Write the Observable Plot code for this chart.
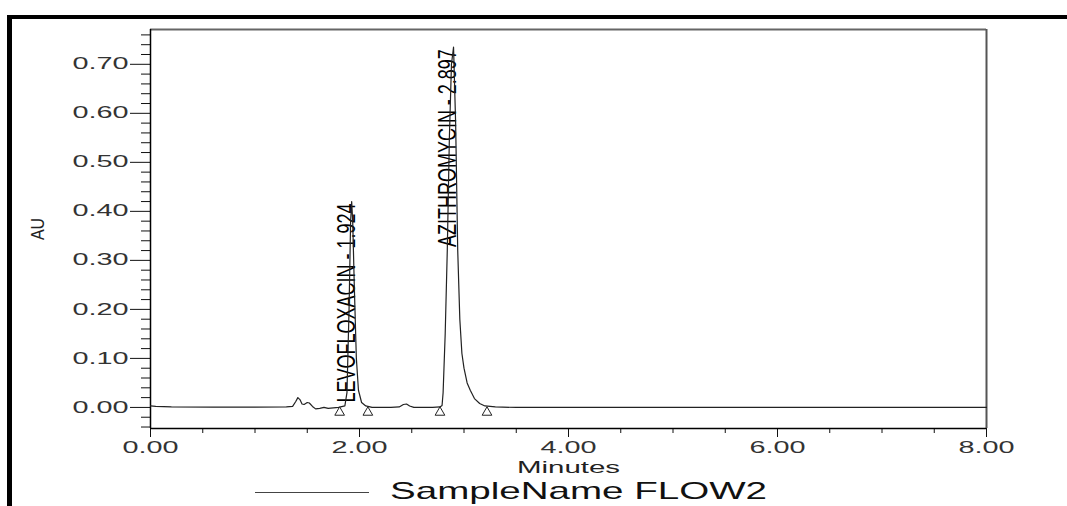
<!DOCTYPE html>
<html><head><meta charset="utf-8">
<script src="https://cdn.jsdelivr.net/npm/d3@7"></script>
<script src="https://cdn.jsdelivr.net/npm/@observablehq/plot@0.6"></script>
<style>
html,body{margin:0;padding:0;background:#fff;width:1067px;height:506px;overflow:hidden;font-family:"Liberation Sans",Arial,sans-serif;}
#border{position:absolute;left:7px;top:15px;width:1070px;height:500px;border-top:4px solid #000;border-left:5px solid #000;box-sizing:border-box;}
#chart{position:absolute;left:0;top:0;}
#legend{position:absolute;left:0;top:478px;width:1067px;height:27px;}
</style></head><body>
<div id="border"></div>
<div id="chart"></div>
<div id="legend"></div>
<script>
// Chromatogram trace (minutes, AU)
const times = [0.00,0.05,0.20,0.60,1.00,1.30,1.36,1.39,1.41,1.43,1.45,1.47,1.50,1.52,1.55,1.58,1.62,1.66,1.70,1.75,1.80,1.86,1.88,1.90,1.915,1.925,1.935,1.95,1.97,1.99,2.02,2.06,2.12,2.20,2.30,2.38,2.42,2.45,2.48,2.52,2.60,2.70,2.77,2.79,2.80,2.82,2.84,2.86,2.88,2.90,2.92,2.94,2.96,2.98,3.00,3.03,3.06,3.10,3.15,3.20,3.30,3.50,4.00,5.00,6.00,7.00,8.00];
const au    = [0.003,0.002,0.001,0.0005,0.0005,0.001,0.002,0.012,0.020,0.016,0.007,0.006,0.010,0.009,0.002,-0.003,-0.002,0.000,-0.002,-0.001,0.000,0.003,0.030,0.200,0.380,0.420,0.380,0.250,0.100,0.035,0.010,0.003,0.000,0.000,0.000,0.001,0.006,0.007,0.003,0.000,0.000,0.000,0.001,0.004,0.030,0.150,0.320,0.550,0.700,0.735,0.580,0.320,0.180,0.110,0.080,0.050,0.035,0.018,0.008,0.003,0.001,0.000,0.000,0.000,0.000,0.000,0.000];

// Integrated peaks
const peakNames  = ["LEVOFLOXACIN", "AZITHROMYCIN"];
const peakRT     = [1.924, 2.897];
const peakHeight = [0.420, 0.735];

// Integration start/end markers
const markerTimes = [1.81, 2.08, 2.77, 3.22];
const markerAU    = [0, 0, 0, 0];

// Axes
const xDomain = [0, 8];
const yDomain = [-0.043, 0.771];
const xMajorTicks = [0, 2, 4, 6, 8];
const xMinorTicks = [0.5, 1, 1.5, 2.5, 3, 3.5, 4.5, 5, 5.5, 6.5, 7, 7.5];
const yMajorTicks = [0, 0.1, 0.2, 0.3, 0.4, 0.5, 0.6, 0.7];
const yMinorTicks = [-0.04,-0.02,0.02,0.04,0.06,0.08,0.12,0.14,0.16,0.18,0.22,0.24,0.26,0.28,0.32,0.34,0.36,0.38,0.42,0.44,0.46,0.48,0.52,0.54,0.56,0.58,0.62,0.64,0.66,0.68,0.72,0.74,0.76];
const xLabel = "Minutes";
const yLabel = "AU";
const sampleName = "SampleName FLOW2";

const trace = times.map((t, i) => ({t, v: au[i]}));
const peaks = peakNames.map((n, i) => ({label: `${n} - ${peakRT[i].toFixed(3)}`, rt: peakRT[i], h: peakHeight[i]}));
const markers = markerTimes.map((t, i) => ({t, v: markerAU[i]}));
const fmt = d3.format(".2f");

const plot = Plot.plot({
  width: 1067, height: 480,
  marginLeft: 150, marginRight: 81, marginTop: 29, marginBottom: 52,
  style: {background: "transparent", fontFamily: "'Liberation Sans', Arial, sans-serif", color: "#000", overflow: "visible"},
  x: {domain: xDomain},
  y: {domain: yDomain},
  marks: [
    Plot.ruleY([yDomain[1]], {stroke: "#666", strokeWidth: 2}),
    Plot.ruleX([xDomain[1]], {stroke: "#555", strokeWidth: 2}),
    Plot.axisY(yMinorTicks, {tickSize: 9, tickFormat: () => "", label: null, stroke: "#111"}),
    Plot.axisY(yMajorTicks, {tickSize: 20, tickPadding: 2, tickFormat: fmt, fontSize: 16, fill: "#333", stroke: "#111",
      label: yLabel, labelAnchor: "center", labelArrow: "none", labelOffset: 120}),
    Plot.axisX(xMinorTicks, {tickSize: 5, tickFormat: () => "", label: null, stroke: "#111"}),
    Plot.axisX(xMajorTicks, {tickSize: 9, tickPadding: 4, tickFormat: fmt, fontSize: 16, fill: "#333", stroke: "#111",
      label: xLabel, labelAnchor: "center", labelArrow: "none", labelOffset: 44}),
    Plot.ruleX([xDomain[0]], {stroke: "#000", strokeWidth: 1.5}),
    Plot.ruleY([yDomain[0]], {stroke: "#000", strokeWidth: 1.5}),
    Plot.text(peaks, {x: "rt", y: "h", text: "label", rotate: -90, textAnchor: "end", lineAnchor: "bottom",
      fontSize: 18, fill: "#000", dx: 3, dy: 2}),
    Plot.line(trace, {x: "t", y: "v", stroke: "#222", strokeWidth: 1.2}),
    Plot.dot(markers, {x: "t", y: "v", symbol: "triangle", r: 3.6, stroke: "#222", fill: "white", strokeWidth: 1, dy: 5})
  ]
});
document.getElementById("chart").appendChild(plot);

function stretch(nodes, f) {
  nodes.forEach(n => {
    const w = n.getComputedTextLength();
    if (w > 0) { n.setAttribute("textLength", w * f); n.setAttribute("lengthAdjust", "spacingAndGlyphs"); }
  });
}
stretch(plot.querySelectorAll('g[aria-label="y-axis tick label"] text'), 1.8);
stretch(plot.querySelectorAll('g[aria-label="x-axis tick label"] text'), 1.8);
stretch(plot.querySelectorAll('g[aria-label="x-axis label"] text'), 1.84);

const labelSet = new Set(peaks.map(p => p.label));
plot.querySelectorAll("text").forEach(n => {
  const s = n.textContent;
  if (labelSet.has(s)) {
    n.setAttribute("transform", (n.getAttribute("transform") || "") + " scale(1,1.4)");
  } else if (s === yLabel) {
    n.style.fontSize = "16px";
    n.setAttribute("fill", "#222");
    n.setAttribute("transform", (n.getAttribute("transform") || "") + " scale(1,1.2)");
  } else if (s === xLabel) {
    n.setAttribute("fill", "#222");
  }
});

// Legend
const leg = d3.select("#legend").append("svg").attr("width", 1067).attr("height", 27);
leg.append("line").attr("x1", 255).attr("x2", 369).attr("y1", 14.5).attr("y2", 14.5).attr("stroke", "#444").attr("stroke-width", 1);
const lt = leg.append("text").attr("x", 390).attr("y", 21).text(sampleName)
  .style("font-family", "'Liberation Sans', Arial, sans-serif").style("font-size", "24px").attr("fill", "#111");
lt.attr("textLength", 377).attr("lengthAdjust", "spacingAndGlyphs");
</script>
</body></html>
